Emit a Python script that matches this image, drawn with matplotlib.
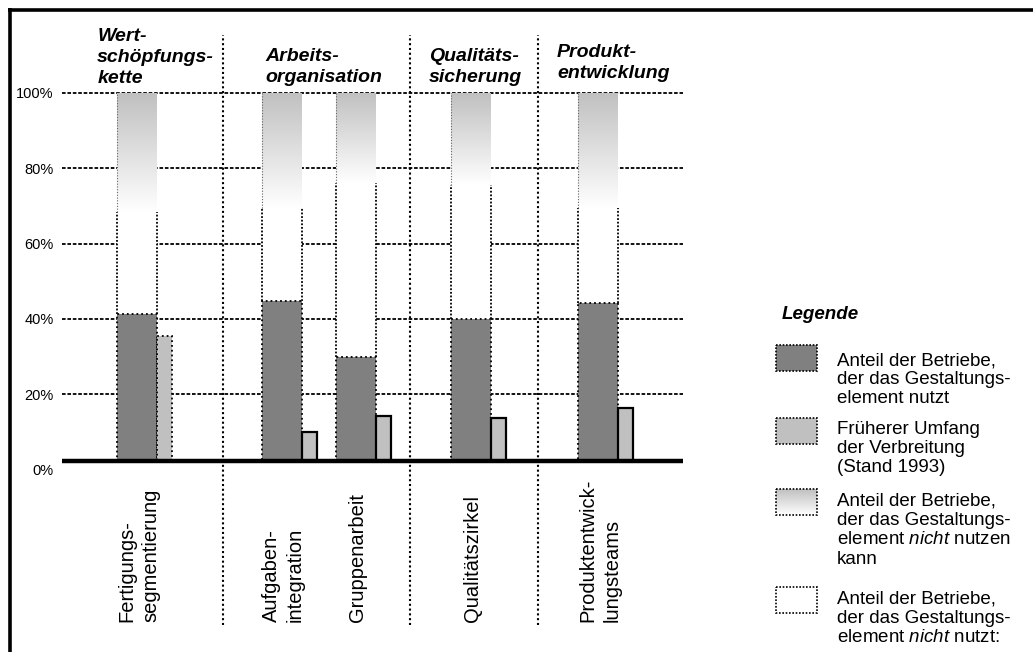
import numpy as np
import matplotlib
matplotlib.use("Agg")
import matplotlib.pyplot as plt
from matplotlib.colors import LinearSegmentedColormap
from matplotlib.patches import Rectangle
from matplotlib import transforms

plt.rcParams['font.family'] = ['Liberation Sans', 'DejaVu Sans']
plt.rcParams['mathtext.fontset'] = 'custom'
plt.rcParams['mathtext.rm'] = 'Liberation Sans'
plt.rcParams['mathtext.it'] = 'Liberation Sans:italic'
plt.rcParams['mathtext.bf'] = 'Liberation Sans:bold'

# ---------------------------------------------------------------- data
sections = ["Wert-\nschöpfungs-\nkette", "Arbeits-\norganisation",
            "Qualitäts-\nsicherung", "Produkt-\nentwicklung"]
categories = ["Fertigungs-\nsegmentierung", "Aufgaben-\nintegration",
              "Gruppenarbeit", "Qualitätszirkel", "Produktentwick-\nlungsteams"]
used_now = [41.3, 44.8, 29.9, 39.9, 44.3]      # Anteil der Betriebe, die nutzen (%)
used_1993 = [35.4, 9.9, 14.2, 13.6, 16.3]      # früherer Umfang, Stand 1993 (%)
cannot_use = [31.6, 30.6, 24.0, 24.4, 30.6]    # Anteil, der nicht nutzen kann (%)
y_ticks = [0, 20, 40, 60, 80, 100]
y_tick_labels = ["0%", "20%", "40%", "60%", "80%", "100%"]
legend_title = "Legende"
legend_labels = [
    "Anteil der Betriebe,\nder das Gestaltungs-\nelement nutzt",
    "Früherer Umfang\nder Verbreitung\n(Stand 1993)",
    "Anteil der Betriebe,\nder das Gestaltungs-\nelement $\\mathit{nicht}$ nutzen\nkann",
    "Anteil der Betriebe,\nder das Gestaltungs-\nelement $\\mathit{nicht}$ nutzt:",
]

# -------------------------------------------------------------- layout
W, H = 1033, 652
AX_L, AX_R, AX_T, AX_B = 62, 683, 93, 469.3     # plot area in pixels
X_MAX = 8.28
group_pos = [1.1, 3.03, 4.02, 5.55, 7.25]
separators = [2.15, 4.64, 6.35]
header_x = [0.47, 2.71, 4.89, 6.6]
header_last_baseline = [83, 82, 82, 78]
dark_w, light_w = 0.533, 0.2
base = 2.3                                     # position of the drawn x axis line
light_edge = [":", "-", "-", "-", "-"]

dark_col, light_col = "#808080", "#c0c0c0"
grad_cmap = LinearSegmentedColormap.from_list("fade", ["#ffffff", "#c0c0c0"])
grad = np.linspace(1, 0, 256).reshape(-1, 1)

fig = plt.figure(figsize=(W / 100, H / 100), dpi=100)
ax = fig.add_axes([AX_L / W, 1 - AX_B / H, (AX_R - AX_L) / W, (AX_B - AX_T) / H])
ax.patch.set_alpha(0)
for s in ax.spines.values():
    s.set_visible(False)

fy = lambda p: 1 - p / H
xfig = transforms.blended_transform_factory(ax.transData, fig.transFigure)

# grid
ax.hlines(y_ticks[1:], 0, X_MAX, colors="black", linestyles=(0, (2, 1)),
          lw=1.3, zorder=1, clip_on=False)

# section separators
ax.vlines(separators, fy(625), fy(35), transform=xfig, colors="black",
          linestyles=(0, (1, 1.3)), lw=1.5, zorder=1, clip_on=False)

for i, p in enumerate(group_pos):
    x0 = p - (dark_w + light_w) / 2
    top_free = 100 - cannot_use[i]
    # used share
    ax.bar(x0, used_now[i] - base, bottom=base, width=dark_w, align="edge",
           color=dark_col, edgecolor="black", linestyle=":", lw=1.3, zorder=3)
    # share not using (white, dotted sides)
    ax.bar(x0, top_free - used_now[i], bottom=used_now[i], width=dark_w,
           align="edge", color="white", edgecolor="none", zorder=2)
    ax.vlines([x0, x0 + dark_w], used_now[i], top_free, colors="black",
              linestyles=(0, (1, 1)), lw=1.3, zorder=3)
    # share unable to use (gradient)
    ax.imshow(grad, extent=[x0, x0 + dark_w, top_free, 100], cmap=grad_cmap,
              vmin=0, vmax=1, aspect="auto", zorder=2, interpolation="bilinear")
    ax.vlines(x0, top_free, 100, colors="#666666", linestyles=(0, (1, 1.5)),
              lw=0.8, zorder=4)
    # 1993 share
    ax.bar(x0 + dark_w, used_1993[i] - base, bottom=base, width=light_w,
           align="edge", color=light_col, edgecolor="black",
           linestyle=light_edge[i], lw=1.3 if light_edge[i] == ":" else 1.6,
           zorder=3)
    # category label
    ax.text(p - 0.08, fy(622), categories[i], transform=xfig, rotation=90,
            rotation_mode="anchor", ha="left", va="center", fontsize=14.5,
            multialignment="left", linespacing=1.33)

# x axis line
ax.hlines(base, 0, X_MAX, colors="black", lw=3.2, zorder=5, clip_on=False)

ax.set_xlim(0, X_MAX)
ax.set_ylim(0, 100)
ax.set_xticks([])
ax.set_yticks(y_ticks, y_tick_labels)
ax.tick_params(axis="y", length=0, pad=6, labelsize=10.5)

# section headers
for hx, hb, txt in zip(header_x, header_last_baseline, sections):
    ax.text(hx, fy(hb), txt, transform=xfig, fontsize=14, fontweight="bold",
            fontstyle="italic", va="baseline", ha="left", linespacing=1.32)

# overlay in pixel coordinates: frame and legend
lax = fig.add_axes([0, 0, 1, 1], zorder=10)
lax.set_xlim(0, W)
lax.set_ylim(H, 0)
lax.axis("off")
lax.plot([8, W], [9.5, 9.5], color="black", lw=2.6, solid_capstyle="butt")
lax.plot([9.5, 9.5], [8, H], color="black", lw=2.6, solid_capstyle="butt")

lax.text(782, 319, legend_title, fontsize=13.5, fontweight="bold",
         fontstyle="italic", va="baseline", ha="left")

swatch_tops = [345, 418, 489, 587]
text_tops = [352, 421, 493, 591]
sw_x, sw_w, sw_h = 776, 41, 26
fills = [dark_col, light_col, None, "white"]
for k, (st, tt, lab) in enumerate(zip(swatch_tops, text_tops, legend_labels)):
    if fills[k] is None:
        lax.imshow(grad, extent=[sw_x, sw_x + sw_w, st + sw_h, st],
                   cmap=grad_cmap, vmin=0, vmax=1, aspect="auto",
                   interpolation="bilinear")
        lax.add_patch(Rectangle((sw_x, st), sw_w, sw_h, facecolor="none",
                                edgecolor="black", linestyle=(0, (1, 1)), lw=1.2))
    else:
        lax.add_patch(Rectangle((sw_x, st), sw_w, sw_h, facecolor=fills[k],
                                edgecolor="black", linestyle=(0, (1, 1)), lw=1.2))
    lax.text(837, tt, lab, fontsize=13.5, va="top", ha="left", linespacing=1.17)
lax.set_xlim(0, W)
lax.set_ylim(H, 0)

fig.savefig("out.png", dpi=100, facecolor="white")
